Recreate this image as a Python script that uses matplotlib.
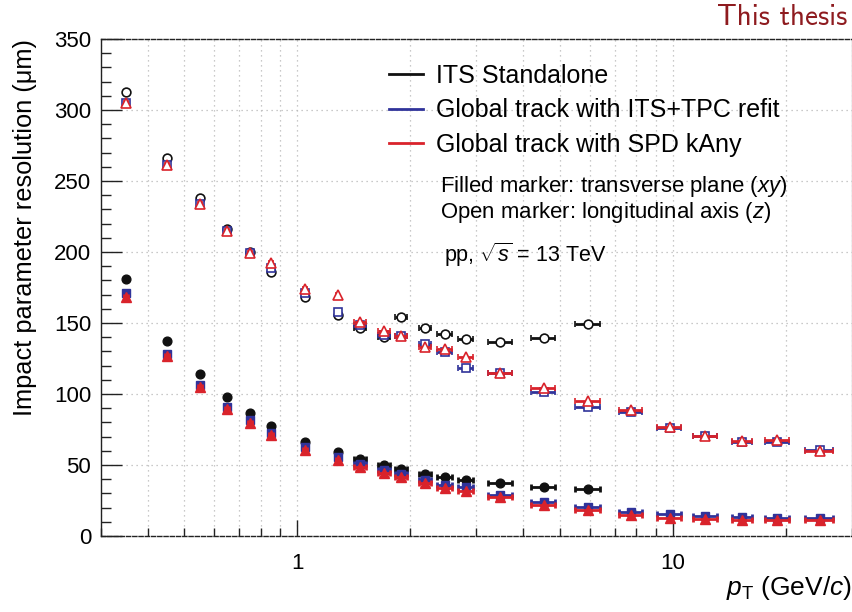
import numpy as np
import matplotlib
matplotlib.use("Agg")
import matplotlib.pyplot as plt
from matplotlib.lines import Line2D
from matplotlib.ticker import FixedLocator, NullFormatter, FixedFormatter

plt.rcParams['font.family'] = ['Liberation Sans', 'DejaVu Sans']
plt.rcParams['mathtext.fontset'] = 'custom'
plt.rcParams['mathtext.rm'] = 'Liberation Sans'
plt.rcParams['mathtext.it'] = 'Liberation Sans:italic'

# pT bins (GeV/c) and horizontal error
pt = [0.35, 0.45, 0.55, 0.65, 0.75, 0.85, 1.05, 1.28, 1.47, 1.7, 1.89, 2.19,
      2.47, 2.81, 3.47, 4.53, 5.95, 7.72, 9.8, 12.2, 15.3, 19.0, 24.6]
pt_err = [0.005, 0.006, 0.007, 0.008, 0.009, 0.01, 0.012, 0.015, 0.055, 0.065, 0.07, 0.085,
          0.11, 0.13, 0.26, 0.33, 0.45, 0.55, 0.7, 0.9, 0.95, 1.4, 2.1]

# ITS standalone (only up to 6 GeV/c)
its_xy = [180.7, 137.3, 114.0, 97.9, 86.5, 77.5, 66.4, 58.9, 54.2, 50.0, 47.0, 43.7,
          41.8, 39.4, 37.1, 34.7, 33.1]
its_z = [312.5, 266.4, 238.2, 216.0, 199.8, 186.0, 168.5, 155.6, 146.3, 139.9, 154.0, 146.3,
         142.3, 138.5, 136.4, 139.2, 149.1]

# global track ITS+TPC refit
tpc_xy = [171.0, 128.2, 106.3, 90.8, 81.5, 72.8, 62.9, 55.4, 50.7, 46.5, 43.7, 39.4,
          35.9, 34.3, 28.9, 24.2, 20.4, 17.1, 15.3, 14.1, 13.4, 13.0, 13.0]
tpc_z = [304.7, 261.3, 233.8, 214.8, 199.5, 188.5, 171.3, 158.0, 148.6, 141.5, 141.0, 135.5,
         129.8, 118.1, 114.6, 101.6, 90.6, 87.1, 76.0, 70.5, 66.2, 66.0, 60.6]

# global track SPD kAny
spd_xy = [168.3, 126.8, 105.0, 89.4, 79.8, 71.4, 60.6, 53.5, 48.8, 44.1, 41.3, 37.1,
          34.0, 31.9, 27.3, 21.8, 18.3, 14.8, 12.9, 11.7, 11.3, 11.3, 11.0]
spd_z = [305.0, 261.3, 233.5, 214.5, 199.5, 192.0, 173.7, 169.7, 150.9, 144.6, 140.8, 133.1,
         131.5, 126.3, 114.6, 104.0, 95.3, 88.7, 76.5, 70.6, 66.9, 67.6, 59.9]

c_black = '#111111'
c_blue = '#30339a'
c_red = '#d9232b'

fig = plt.figure(figsize=(8.53, 6.12), dpi=100)
ax = fig.add_axes([0.1184, 0.1242, 0.8804, 0.8121])

series = [
    (its_xy, its_z, c_black, 'o', 6.3),
    (tpc_xy, tpc_z, c_blue, 's', 6.3),
    (spd_xy, spd_z, c_red, '^', 7.0),
]
z = 3
for xy, zz, col, mk, ms in series:
    n = len(xy)
    x = pt[:n]
    xe = pt_err[:n]
    ax.errorbar(x, xy, xerr=xe, fmt=mk, color=col, ms=ms, mec=col, mfc=col,
                elinewidth=2.0, capsize=2.3, capthick=2.0, zorder=z)
    ax.errorbar(x, zz, xerr=xe, fmt=mk, color=col, ms=ms, mec=col, mfc='white',
                mew=1.2, elinewidth=2.0, capsize=2.3, capthick=2.0, zorder=z)
    z += 1

ax.set_xscale('log')
ax.set_xlim(0.3, 30)
ax.set_ylim(0, 350)

minor_x = [0.3, 0.4, 0.5, 0.6, 0.7, 0.8, 0.9, 2, 3, 4, 5, 6, 7, 8, 9, 20, 30]
ax.xaxis.set_major_locator(FixedLocator([1, 10]))
ax.xaxis.set_major_formatter(FixedFormatter(['1', '10']))
ax.xaxis.set_minor_locator(FixedLocator(minor_x))
ax.xaxis.set_minor_formatter(NullFormatter())
ax.set_yticks(np.arange(0, 351, 50))
ax.set_yticks(np.arange(0, 351, 10), minor=True)

ax.tick_params(axis='y', which='major', direction='in', length=15, width=1.0,
               labelsize=16, pad=7, right=False, color='#222222')
ax.tick_params(axis='y', which='minor', direction='in', length=7.5, width=1.0,
               right=False, color='#222222')
ax.tick_params(axis='x', which='major', direction='in', length=11.5, width=1.0,
               labelsize=16, pad=12, top=False, color='#222222')
ax.tick_params(axis='x', which='minor', direction='in', length=5.8, width=1.0,
               top=False, color='#222222')

ax.grid(True, axis='x', which='both', color='#b8b8b8', linestyle=(0, (1, 3)), linewidth=0.9)
ax.grid(True, axis='y', which='major', color='#b8b8b8', linestyle=(0, (1, 3)), linewidth=0.9)
ax.set_axisbelow(True)

ax.spines['left'].set_color('#222222')
ax.spines['bottom'].set_color('#222222')
ax.spines['bottom'].set_linestyle((0, (3, 1.5)))
ax.spines['top'].set_color('#222222')
ax.spines['top'].set_linestyle((0, (3, 1.5)))
ax.spines['right'].set_color('#bbbbbb')
for s in ax.spines.values():
    s.set_linewidth(1.0)

ax.set_ylabel('Impact parameter resolution (μm)', fontsize=18.3, loc='top', labelpad=12)
ax.set_xlabel(r'$p_{\mathrm{T}}$ (GeV/$c$)', fontsize=19, loc='right', labelpad=0)

handles = [Line2D([], [], color=c_black, lw=2),
           Line2D([], [], color=c_blue, lw=2),
           Line2D([], [], color=c_red, lw=2)]
labels = ['ITS Standalone', 'Global track with ITS+TPC refit', 'Global track with SPD kAny']
ax.legend(handles, labels, loc='upper left', bbox_to_anchor=(0.3835, 0.95), frameon=False,
          fontsize=18, handlelength=1.36, handletextpad=0.52, labelspacing=0.42,
          borderaxespad=0, borderpad=0)

ax.text(0.452, 0.704, 'Filled marker: transverse plane ($xy$)', transform=ax.transAxes,
        fontsize=15.9, va='center')
ax.text(0.452, 0.65, 'Open marker: longitudinal axis ($z$)', transform=ax.transAxes,
        fontsize=15.9, va='center')
ax.text(0.457, 0.565, r'pp, $\sqrt{s}$ = 13 TeV', transform=ax.transAxes,
        fontsize=15.5, va='center')

fig.text(0.993, 0.972, 'This thesis', color='#8e1b1f', fontsize=21,
         family=['cmss10', 'DejaVu Sans'], ha='right', va='center')

fig.savefig('out.png', dpi=100)
